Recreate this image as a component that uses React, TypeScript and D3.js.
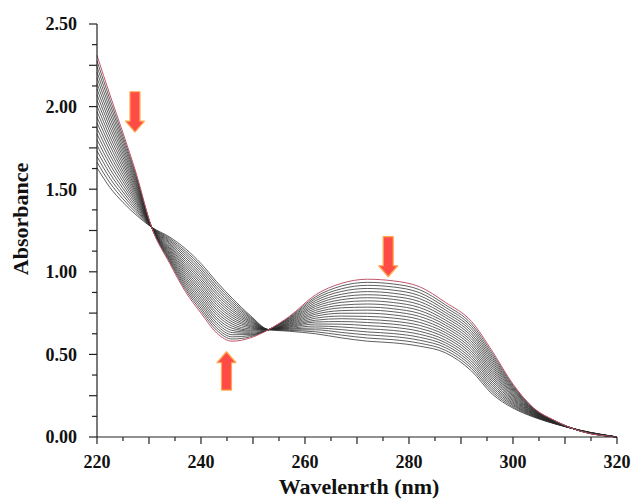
import { useEffect } from 'react';
import * as d3 from 'd3';

const wavelengths = [220, 222.5, 225, 227.5, 230.5, 234, 237, 240, 243, 246, 249.5, 253, 257, 262, 267, 272, 277, 282, 287, 292, 296, 300, 304, 308, 313, 320];

// absorbance per wavelength, one column per spectrum (first = red curve, last = final spectrum)
const absorbance = [
  [2.310, 2.276, 2.242, 2.208, 2.174, 2.140, 2.106, 2.072, 2.038, 2.004, 1.970, 1.936, 1.902, 1.868, 1.834, 1.800, 1.766, 1.732, 1.698, 1.664, 1.630],
  [2.070, 2.042, 2.014, 1.986, 1.958, 1.930, 1.902, 1.874, 1.846, 1.818, 1.790, 1.762, 1.734, 1.706, 1.678, 1.650, 1.622, 1.594, 1.566, 1.538, 1.510],
  [1.840, 1.819, 1.798, 1.777, 1.756, 1.735, 1.714, 1.693, 1.672, 1.651, 1.630, 1.609, 1.588, 1.567, 1.546, 1.525, 1.504, 1.483, 1.462, 1.441, 1.420],
  [1.600, 1.587, 1.575, 1.562, 1.549, 1.536, 1.524, 1.511, 1.498, 1.485, 1.473, 1.460, 1.447, 1.434, 1.422, 1.409, 1.396, 1.383, 1.371, 1.358, 1.345],
  [1.270, 1.270, 1.270, 1.270, 1.270, 1.270, 1.270, 1.270, 1.270, 1.270, 1.270, 1.270, 1.270, 1.270, 1.270, 1.270, 1.270, 1.270, 1.270, 1.270, 1.270],
  [1.050, 1.058, 1.066, 1.074, 1.082, 1.090, 1.098, 1.106, 1.114, 1.122, 1.130, 1.138, 1.146, 1.154, 1.162, 1.170, 1.178, 1.186, 1.194, 1.202, 1.210],
  [0.880, 0.893, 0.906, 0.919, 0.932, 0.945, 0.958, 0.971, 0.984, 0.997, 1.010, 1.023, 1.036, 1.049, 1.062, 1.075, 1.088, 1.101, 1.114, 1.127, 1.140],
  [0.750, 0.765, 0.780, 0.795, 0.810, 0.825, 0.840, 0.855, 0.870, 0.885, 0.900, 0.915, 0.930, 0.945, 0.960, 0.975, 0.990, 1.005, 1.020, 1.035, 1.050],
  [0.630, 0.646, 0.661, 0.677, 0.692, 0.708, 0.723, 0.739, 0.754, 0.770, 0.785, 0.801, 0.816, 0.832, 0.847, 0.863, 0.878, 0.894, 0.909, 0.925, 0.940],
  [0.580, 0.593, 0.606, 0.619, 0.632, 0.645, 0.658, 0.671, 0.684, 0.697, 0.710, 0.723, 0.736, 0.749, 0.762, 0.775, 0.788, 0.801, 0.814, 0.827, 0.840],
  [0.600, 0.607, 0.614, 0.620, 0.627, 0.634, 0.641, 0.647, 0.654, 0.661, 0.668, 0.674, 0.681, 0.688, 0.695, 0.701, 0.708, 0.715, 0.722, 0.728, 0.735],
  [0.650, 0.650, 0.650, 0.650, 0.650, 0.650, 0.650, 0.650, 0.650, 0.650, 0.650, 0.650, 0.650, 0.650, 0.650, 0.650, 0.650, 0.650, 0.650, 0.650, 0.650],
  [0.730, 0.726, 0.721, 0.717, 0.712, 0.708, 0.703, 0.699, 0.694, 0.690, 0.685, 0.681, 0.676, 0.672, 0.667, 0.663, 0.658, 0.654, 0.649, 0.645, 0.640],
  [0.860, 0.848, 0.837, 0.825, 0.813, 0.801, 0.790, 0.778, 0.766, 0.754, 0.743, 0.731, 0.719, 0.707, 0.696, 0.684, 0.672, 0.660, 0.649, 0.637, 0.625],
  [0.930, 0.914, 0.897, 0.881, 0.864, 0.848, 0.831, 0.815, 0.798, 0.782, 0.765, 0.749, 0.732, 0.716, 0.699, 0.683, 0.666, 0.650, 0.633, 0.617, 0.600],
  [0.955, 0.936, 0.918, 0.899, 0.880, 0.861, 0.843, 0.824, 0.805, 0.786, 0.768, 0.749, 0.730, 0.711, 0.693, 0.674, 0.655, 0.636, 0.618, 0.599, 0.580],
  [0.945, 0.926, 0.908, 0.889, 0.870, 0.851, 0.833, 0.814, 0.795, 0.776, 0.758, 0.739, 0.720, 0.701, 0.683, 0.664, 0.645, 0.626, 0.608, 0.589, 0.570],
  [0.910, 0.892, 0.874, 0.856, 0.838, 0.820, 0.802, 0.784, 0.766, 0.748, 0.730, 0.712, 0.694, 0.676, 0.658, 0.640, 0.622, 0.604, 0.586, 0.568, 0.550],
  [0.815, 0.800, 0.785, 0.769, 0.754, 0.739, 0.724, 0.708, 0.693, 0.678, 0.663, 0.647, 0.632, 0.617, 0.602, 0.586, 0.571, 0.556, 0.541, 0.525, 0.510],
  [0.700, 0.685, 0.670, 0.655, 0.640, 0.625, 0.610, 0.595, 0.580, 0.565, 0.550, 0.535, 0.520, 0.505, 0.490, 0.475, 0.460, 0.445, 0.430, 0.415, 0.400],
  [0.520, 0.507, 0.494, 0.481, 0.468, 0.455, 0.442, 0.429, 0.416, 0.403, 0.390, 0.377, 0.364, 0.351, 0.338, 0.325, 0.312, 0.299, 0.286, 0.273, 0.260],
  [0.320, 0.313, 0.306, 0.298, 0.291, 0.284, 0.277, 0.269, 0.262, 0.255, 0.248, 0.240, 0.233, 0.226, 0.219, 0.211, 0.204, 0.197, 0.190, 0.182, 0.175],
  [0.175, 0.172, 0.170, 0.167, 0.164, 0.161, 0.159, 0.156, 0.153, 0.150, 0.148, 0.145, 0.142, 0.139, 0.137, 0.134, 0.131, 0.128, 0.126, 0.123, 0.120],
  [0.100, 0.099, 0.098, 0.097, 0.096, 0.095, 0.094, 0.093, 0.092, 0.091, 0.090, 0.089, 0.088, 0.087, 0.086, 0.085, 0.084, 0.083, 0.082, 0.081, 0.080],
  [0.035, 0.035, 0.036, 0.036, 0.036, 0.036, 0.037, 0.037, 0.037, 0.037, 0.038, 0.038, 0.038, 0.038, 0.039, 0.039, 0.039, 0.039, 0.040, 0.040, 0.040],
  [0.000, 0.000, 0.000, 0.000, 0.000, 0.000, 0.000, 0.000, 0.000, 0.000, 0.000, 0.000, 0.000, 0.000, 0.000, 0.000, 0.000, 0.000, 0.000, 0.000, 0.000],
];

// arrows: wavelength, absorbance of tail, absorbance of tip
const arrows = [
  { nm: 227.3, from: 2.09, to: 1.846 },
  { nm: 276.0, from: 1.213, to: 0.970 },
  { nm: 244.9, from: 0.284, to: 0.516 },
];

const xTicks = d3.range(220, 321, 5);
const yTicks = d3.range(0, 2.5001, 0.125);

const W = 634, H = 500;
const font = '"Liberation Serif", "Times New Roman", serif';

export default function App() {
  useEffect(() => { document.body.style.margin = '0'; }, []);

  const x = d3.scaleLinear().domain([220, 320]).range([97, 617]);
  const y = d3.scaleLinear().domain([0, 2.5]).range([437, 24]);

  const nSpectra = absorbance[0].length;
  const spectra = d3.range(nSpectra).map(k => wavelengths.map((w, j) => [w, absorbance[j][k]] as [number, number]));

  const line = d3.line<[number, number]>()
    .x(d => x(d[0])).y(d => y(d[1]))
    .curve(d3.curveMonotoneX);

  const arrowPath = (a: { nm: number; from: number; to: number }) => {
    const cx = x(a.nm), y0 = y(a.from), y1 = y(a.to);
    const dir = y1 > y0 ? 1 : -1;
    const headLen = 11, sw = 5, hw = 9.5;
    const yh = y1 - dir * headLen;
    return `M${cx - sw},${y0} L${cx + sw},${y0} L${cx + sw},${yh} L${cx + hw},${yh} L${cx},${y1} L${cx - hw},${yh} L${cx - sw},${yh} Z`;
  };

  return (
    <svg width={W} height={H} style={{ display: 'block', background: '#fff' }}>
      {/* spectra, red initial curve on top */}
      <g fill="none">
        {spectra.slice(1).reverse().map((s, i) => (
          <path key={i} d={line(s) || ''} stroke="#2a2a2a" strokeWidth={0.75} />
        ))}
        <path d={line(spectra[0]) || ''} stroke="#c0566a" strokeWidth={1} />
      </g>

      {/* axes */}
      <g stroke="#222" strokeWidth={1.2} fill="none">
        <line x1={x(220)} x2={x(320)} y1={y(0)} y2={y(0)} />
        <line x1={x(220)} x2={x(220)} y1={y(0)} y2={y(2.5)} />
        {xTicks.map(t => (
          <line key={'x' + t} x1={x(t)} x2={x(t)} y1={y(0)} y2={y(0) + (t % 10 === 0 ? 7 : 4)} />
        ))}
        {yTicks.map(t => (
          <line key={'y' + t} x1={x(220)} x2={x(220) - (Math.round(t * 1000) % 250 === 0 ? 8 : 5)} y1={y(t)} y2={y(t)} />
        ))}
      </g>
      <g fontFamily={font} fontWeight="bold" fontSize={18} fill="#111">
        {xTicks.filter(t => t % 20 === 0).map(t => (
          <text key={'xl' + t} x={x(t)} y={468} textAnchor="middle">{t}</text>
        ))}
        {yTicks.filter(t => Math.round(t * 1000) % 500 === 0).map(t => (
          <text key={'yl' + t} x={77} y={y(t)} dy="0.35em" textAnchor="end">{d3.format('.2f')(t)}</text>
        ))}
        <text x={359} y={494} textAnchor="middle" fontSize={22}>Wavelenrth (nm)</text>
        <text transform="translate(28,219) rotate(-90)" textAnchor="middle" fontSize={22}>Absorbance</text>
      </g>

      {/* arrows */}
      <g fill="#ff4b45" stroke="#ffa850" strokeWidth={1.2} strokeLinejoin="round">
        {arrows.map((a, i) => <path key={i} d={arrowPath(a)} />)}
      </g>
    </svg>
  );
}
